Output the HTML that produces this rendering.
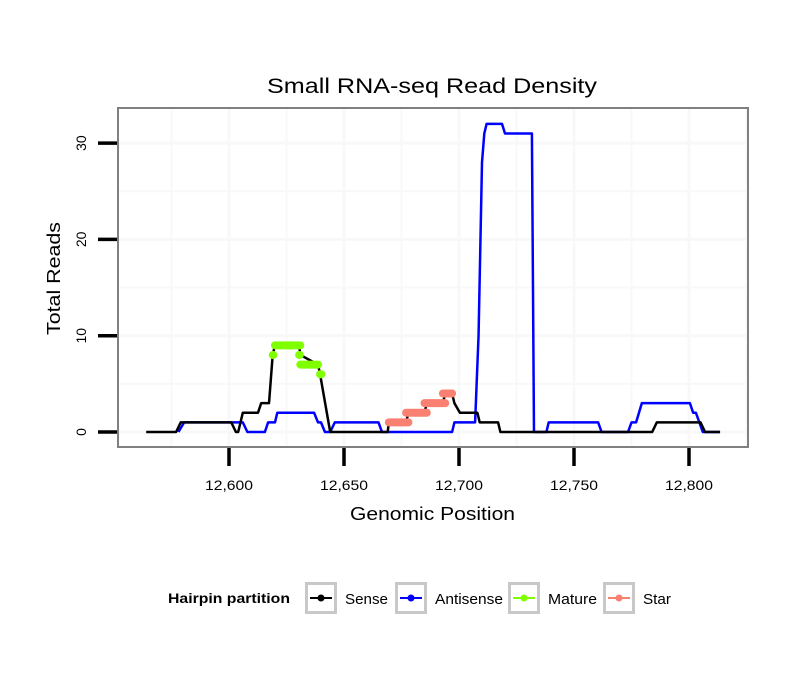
<!DOCTYPE html>
<html><head><meta charset="utf-8"><style>
body{margin:0;background:#fff;font-family:"Liberation Sans",sans-serif}
</style></head><body>
<svg id="c" width="810" height="690" xmlns="http://www.w3.org/2000/svg" font-family="Liberation Sans, sans-serif">
<text x="267" y="93" textLength="330" lengthAdjust="spacingAndGlyphs" font-size="21">Small RNA-seq Read Density</text>
<g id="grid"></g>
<g id="series"></g>
<rect x="118" y="108" width="630" height="339" fill="none" stroke="#808080" stroke-width="2"/>
<g id="axes"></g>
<text x="350" y="520" textLength="165" lengthAdjust="spacingAndGlyphs" font-size="18">Genomic Position</text>
<text transform="translate(60,335) rotate(-90)" textLength="113" lengthAdjust="spacingAndGlyphs" font-size="18">Total Reads</text>
<g id="legend"></g>
</svg>
<script>
const xTicks=[12600,12650,12700,12750,12800];
const xTickLabels=["12,600","12,650","12,700","12,750","12,800"];
const yTicks=[0,10,20,30];
const senseX=[12564,12577,12579,12601,12603,12604,12606,12612.6,12614,12617.4,12619,12620,12630.5,12631,12638.7,12639.6,12644,12669,12669.5,12677,12678,12685,12686,12693,12694,12697,12698,12700.4,12708,12709,12717,12718,12784,12786,12805,12807,12813.5];
const senseY=[0,0,1,1,0,0,2,2,3,3,8,9,9,8,7,6,0,0,1,1,2,2,3,3,4,4,3,2,2,1,1,0,0,1,1,0,0];
const antiX=[12578,12580.5,12606,12608,12615.6,12617,12620,12621,12637,12638.7,12640,12641.7,12644,12646,12665,12666.5,12697,12698,12707,12708.5,12710,12711,12712,12718.7,12720,12731.7,12732.6,12738,12739,12760.5,12762,12773.5,12775,12777,12779.5,12800.4,12801.8,12803,12806,12813.5];
const antiY=[0,1,1,0,0,1,1,2,2,1,1,0,0,1,1,0,0,1,1,10,28,31,32,32,31,31,0,0,1,1,0,0,1,1,3,3,2,2,0,0];
const matureStart=[12619,12620,12630.5,12631,12639.6];
const matureEnd=[12619.3,12631,12630.8,12638.7,12640.2];
const matureVal=[8,9,8,7,6];
const starStart=[12669.5,12677,12685,12693];
const starEnd=[12678,12686,12694,12697];
const starVal=[1,2,3,4];

const NS="http://www.w3.org/2000/svg";
const X=v=>229+(v-12600)*2.3;
const Y=v=>432-v*9.63;
function mk(tag,attrs,parent){const e=document.createElementNS(NS,tag);for(const k in attrs)e.setAttribute(k,attrs[k]);parent.appendChild(e);return e;}
const grid=document.getElementById('grid'),axes=document.getElementById('axes'),ser=document.getElementById('series'),leg=document.getElementById('legend');
for(let v=12575;v<=12825;v+=25){const x=X(v);if(x<119||x>747)continue;const l=mk('line',{x1:x,x2:x,y1:109,y2:446,stroke:'#f8f8f8','stroke-width':v%50===0?3:2},grid);

}
for(let v=0;v<=35;v+=5){const y=Y(v);if(y<109)continue;const l=mk('line',{x1:119,x2:747,y1:y,y2:y,stroke:'#f8f8f8','stroke-width':v%10===0?3:2},grid);

}
xTicks.forEach((v,i)=>{const x=X(v);const t=mk('line',{x1:x,x2:x,y1:448,y2:466,stroke:'#000','stroke-width':3.5},axes);


const s=mk('text',{x:x-24,y:490,textLength:48,lengthAdjust:'spacingAndGlyphs','font-size':14},axes);s.textContent=xTickLabels[i];

});
yTicks.forEach(v=>{const y=Y(v);const t=mk('line',{x1:98,x2:117,y1:y,y2:y,stroke:'#000','stroke-width':3.5},axes);


const s=mk('text',{transform:`translate(86,${y}) rotate(-90)`,'text-anchor':'middle','font-size':14},axes);s.textContent=v;

});
function poly(xs,ys,color,name){const p=mk('polyline',{points:xs.map((v,i)=>X(v)+','+Y(ys[i])).join(' '),fill:'none',stroke:color,'stroke-width':2.5,'stroke-linejoin':'round'},ser);

}
poly(antiX,antiY,'#0000ff','antisense-line');
poly(senseX,senseY,'#000000','sense-line');
function segs(st,en,va,color,name){st.forEach((s,i)=>{const l=mk('line',{x1:X(s),x2:X(en[i]),y1:Y(va[i]),y2:Y(va[i]),stroke:color,'stroke-width':8,'stroke-linecap':'round'},ser);

});}
segs(matureStart,matureEnd,matureVal,'#80ff00','mature-segment');
segs(starStart,starEnd,starVal,'#fa8072','star-segment');
const lt=mk('text',{x:168,y:603,textLength:122,lengthAdjust:'spacingAndGlyphs','font-size':14,'font-weight':'bold'},leg);lt.textContent='Hairpin partition';


const entries=[['Sense','#000',305,43],['Antisense','#0000ff',395,68],['Mature','#80ff00',508,49],['Star','#fa8072',603,28]];
entries.forEach(([n,c,x,w])=>{const g=mk('g',{},leg);


mk('rect',{x:x+1.5,y:583.5,width:29,height:29,fill:'#fff',stroke:'#c8c8c8','stroke-width':3},g);
mk('line',{x1:x+5,x2:x+27,y1:598,y2:598,stroke:c,'stroke-width':2},g);
mk('circle',{cx:x+16,cy:598,r:3.5,fill:c},g);
const t=mk('text',{x:x+40,y:604,textLength:w,lengthAdjust:'spacingAndGlyphs','font-size':15},g);t.textContent=n;});
</script>
</body></html>
